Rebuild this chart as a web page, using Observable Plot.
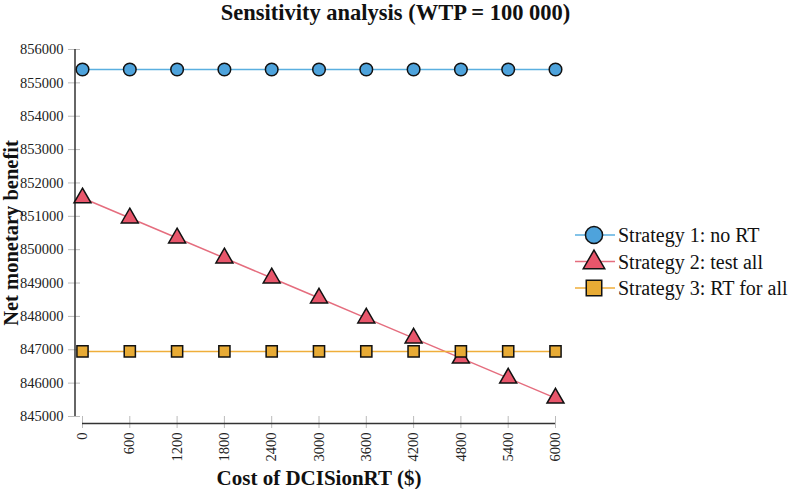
<!DOCTYPE html>
<html>
<head>
<meta charset="utf-8">
<script src="https://cdn.jsdelivr.net/npm/d3@7"></script>
<script src="https://cdn.jsdelivr.net/npm/@observablehq/plot@0.6"></script>
<style>
  body { margin: 0; background: #fff; }
  #wrap { position: relative; width: 791px; height: 489px; font-family: "Liberation Serif", "Times New Roman", serif; }
  #title { position: absolute; left: 0; width: 791px; top: 0px; text-align: center; font-weight: bold; font-size: 22.5px; color: #111; }
  #chart { position: absolute; left: 0; top: 0; }
  #legend { position: absolute; left: 570px; top: 220px; }
  svg text { font-family: "Liberation Serif", "Times New Roman", serif; }
</style>
</head>
<body>
<div id="wrap">
  <div id="chart"></div>
  <div id="title">Sensitivity analysis (WTP = 100 000)</div>
  <div id="legend"></div>
</div>
<script>
const title = "Sensitivity analysis (WTP = 100 000)";
const xLabel = "Cost of DCISionRT ($)";
const yLabel = "Net monetary benefit";
const costs = [0, 600, 1200, 1800, 2400, 3000, 3600, 4200, 4800, 5400, 6000];
const seriesNames = ["Strategy 1: no RT", "Strategy 2: test all", "Strategy 3: RT for all"];
const strategy1 = [855400, 855400, 855400, 855400, 855400, 855400, 855400, 855400, 855400, 855400, 855400];
const strategy2 = [851550, 850950, 850350, 849750, 849150, 848550, 847950, 847350, 846750, 846150, 845550];
const strategy3 = [846950, 846950, 846950, 846950, 846950, 846950, 846950, 846950, 846950, 846950, 846950];
const yTicks = [845000, 846000, 847000, 848000, 849000, 850000, 851000, 852000, 853000, 854000, 855000, 856000];
const xTicks = costs;

const lineColors = ["#5aafe0", "#e56d7e", "#efae3a"];
const fillColors = ["#4ea3dc", "#e8566b", "#e8ab35"];
const symbols = ["circle", "triangle", "square"];

const seriesValues = [strategy1, strategy2, strategy3];
const data = [];
seriesValues.forEach((vals, i) => vals.forEach((v, j) => data.push({series: seriesNames[i], cost: costs[j], value: v})));

const serif = '"Liberation Serif", "Times New Roman", serif';

const chart = Plot.plot({
  width: 791,
  height: 489,
  marginLeft: 82,
  marginRight: 236,
  marginTop: 49,
  marginBottom: 73,
  style: {fontFamily: serif, fontSize: "14px", color: "#000", background: "transparent"},
  x: {domain: [0, 6000]},
  y: {domain: [845000, 856000]},
  color: {domain: seriesNames, range: lineColors},
  symbol: {domain: seriesNames, range: symbols},
  marks: [
    Plot.axisY({ticks: yTicks, tickSize: 12, dx: -2, stroke: "#bbb", tickFormat: () => "", label: null}),
    Plot.axisY({ticks: yTicks, tickSize: 0, dx: -2, tickPadding: 17, tickFormat: d3.format("d"), fontSize: 14.5, fontFamily: serif, fill: "#222", label: null}),
    Plot.axisX({ticks: xTicks, tickSize: 12, stroke: "#bbb", tickFormat: () => "", label: null}),
    Plot.axisX({ticks: xTicks, tickSize: 0, tickPadding: 16, tickRotate: -90, tickFormat: d3.format("d"), fontSize: 14.5, fontFamily: serif, fill: "#222", label: null}),
    Plot.ruleX([0], {dx: -7.5, stroke: "#333", strokeWidth: 1.5}),
    Plot.ruleY([845000], {dy: 7, stroke: "#333", strokeWidth: 1.5}),
    Plot.line(data, {x: "cost", y: "value", z: "series", stroke: "series", strokeWidth: 1.5}),
    Plot.dot(data, {x: "cost", y: "value", symbol: "series", fill: (d) => fillColors[seriesNames.indexOf(d.series)], stroke: "#111", strokeWidth: 1.5, r: 6.3}),
    Plot.text([xLabel], {frameAnchor: "bottom", dy: 62, lineAnchor: "middle", text: d => d, fontWeight: "bold", fontSize: 21, fontFamily: serif, fill: "#111"}),
    Plot.text([yLabel], {frameAnchor: "left", dx: -71, rotate: -90, textAnchor: "middle", lineAnchor: "middle", text: d => d, fontWeight: "bold", fontSize: 20.5, fontFamily: serif, fill: "#111"})
  ]
});
document.getElementById("chart").appendChild(chart);

// Legend
const lg = d3.select("#legend").append("svg").attr("width", 221).attr("height", 90)
  .attr("font-family", serif);
seriesNames.forEach((name, i) => {
  const g = lg.append("g").attr("transform", `translate(0, ${15 + i * 26.5})`);
  g.append("line").attr("x1", 5).attr("x2", 45).attr("y1", 0).attr("y2", 0).attr("stroke", lineColors[i]).attr("stroke-width", 1.5);
  const sym = d3.symbol().type(i === 0 ? d3.symbolCircle : i === 1 ? d3.symbolTriangle : d3.symbolSquare).size(i === 0 ? 230 : i === 1 ? 200 : 240);
  g.append("path").attr("d", sym()).attr("transform", `translate(24, ${i === 1 ? 1 : 0})`)
    .attr("fill", fillColors[i]).attr("stroke", "#111").attr("stroke-width", 1.5);
  g.append("text").attr("x", 48).attr("y", 0).attr("dy", "0.35em").attr("font-size", 20).attr("font-family", serif).attr("fill", "#111").text(name);
});
</script>
</body>
</html>
